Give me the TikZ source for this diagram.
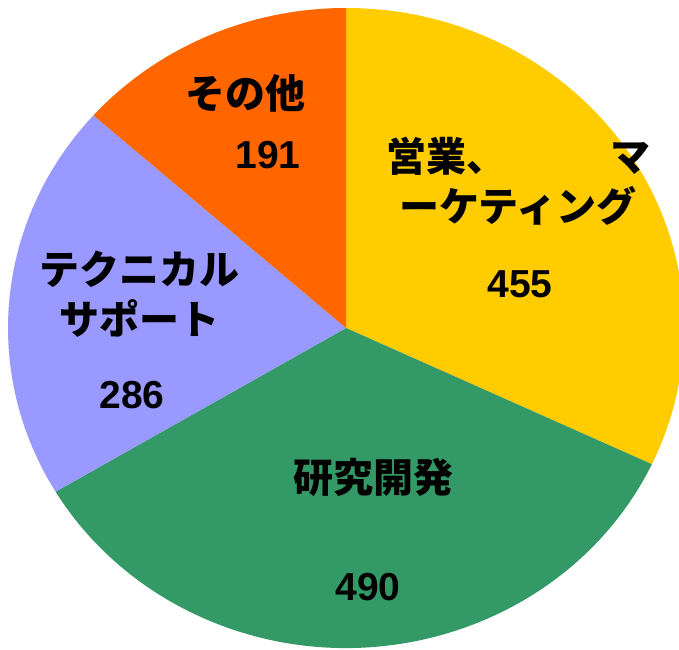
\documentclass[tikz,border=0pt]{standalone}
\usepackage{fontspec}
\setmainfont{Liberation Sans}
\newfontfamily\jpfont{Noto Sans CJK JP}
\usepackage{tikz}
\usetikzlibrary{positioning}
\definecolor{pieyellow}{RGB}{255,204,0}
\definecolor{piegreen}{RGB}{51,153,102}
\definecolor{pielavender}{RGB}{153,153,255}
\definecolor{pieorange}{RGB}{255,102,0}
\tikzstyle{slice} = [draw=none]
\tikzstyle{pielabel} = [inner sep=0pt, align=center, font=\jpfont\bfseries\fontsize{40}{50}\selectfont]
\tikzstyle{pievalue} = [inner sep=0pt, font=\bfseries\fontsize{39}{44}\selectfont]
\tikzstyle{pierim} = [x radius=338pt, y radius=320pt]

\begin{document}
\begin{tikzpicture}[x=1pt,y=1pt]
\useasboundingbox (-346,-321) rectangle (333,328);
\coordinate (c) at (0,0);

% slices, clockwise from the top
\fill[slice, pieyellow] (c) -- (90:338pt and 320pt) arc[pierim, start angle=90, end angle=-25.19] -- cycle;
\fill[slice, piegreen] (c) -- (-25.19:338pt and 320pt) arc[pierim, start angle=-25.19, end angle=-149.24] -- cycle;
\fill[slice, pielavender] (c) -- (-149.24:338pt and 320pt) arc[pierim, start angle=-149.24, end angle=-221.65] -- cycle;
\fill[slice, pieorange] (c) -- (-221.65:338pt and 320pt) arc[pierim, start angle=-221.65, end angle=-270] -- cycle;

% labels
\node[pielabel] (sales) at (172,147) {営業、\hspace*{104pt}マ\\ーケティング};
\node[pievalue] (salesval) at (174,44) {455};
\node[pielabel] (rnd) at (27,-149) {研究開発};
\node[pievalue] (rndval) at (22,-259) {490};
\node[pielabel] (support) at (-206,34) {テクニカル\\サポート};
\node[pievalue] (supportval) at (-214,-67) {286};
\node[pielabel] (other) at (-100,235) {その他};
\node[pievalue] (otherval) at (-78,173) {191};
\end{tikzpicture}
\end{document}
